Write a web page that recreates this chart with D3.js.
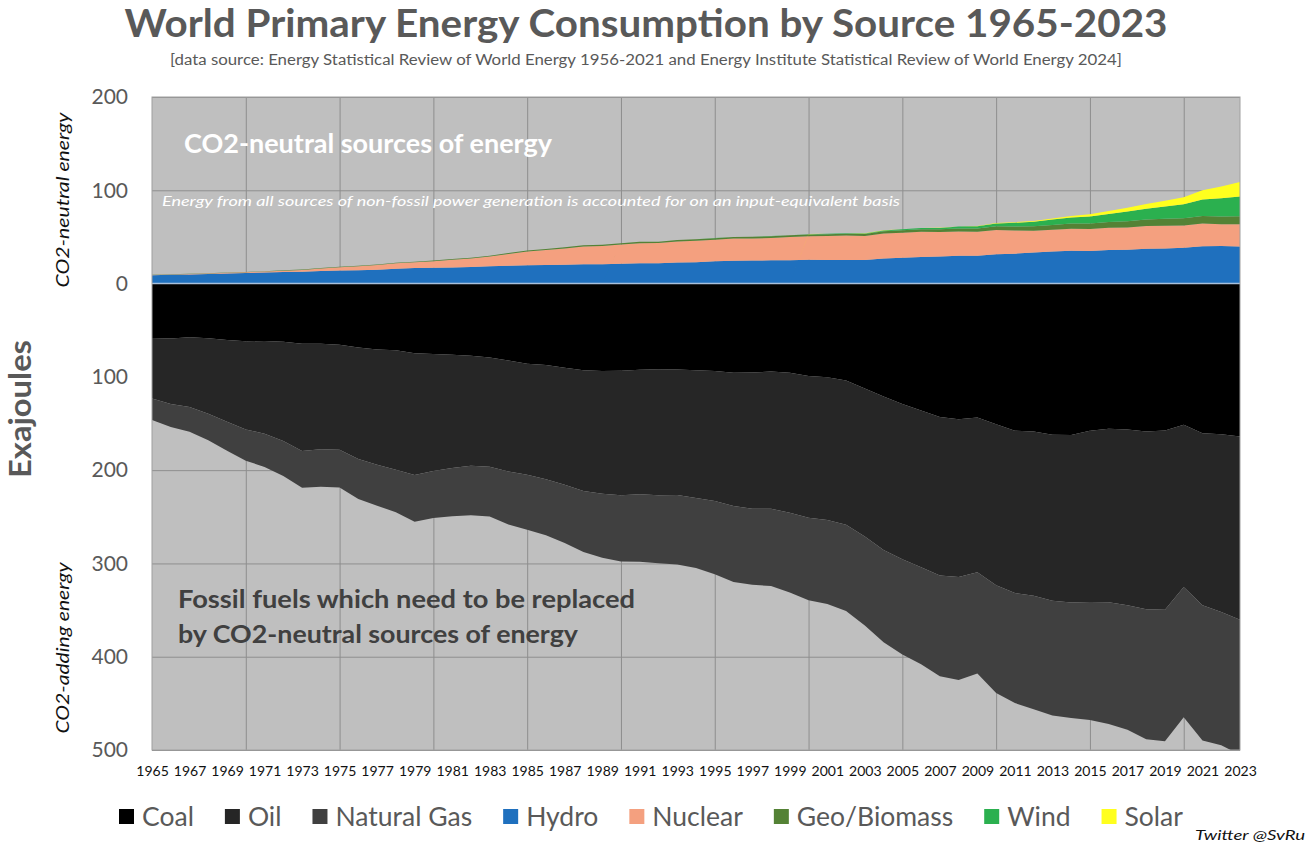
<!DOCTYPE html>
<html>
<head>
<meta charset="utf-8">
<script src="https://cdn.jsdelivr.net/npm/d3@7"></script>
<style>
  body { margin: 0; background: #fff; }
  svg { display: block; font-family: Lato, "Open Sans", sans-serif; }
</style>
</head>
<body>
<svg id="chart" width="1313" height="849"></svg>
<script>
// values in exajoules
var years = [1965,1966,1967,1968,1969,1970,1971,1972,1973,1974,1975,1976,1977,1978,1979,
             1980,1981,1982,1983,1984,1985,1986,1987,1988,1989,1990,1991,1992,1993,1994,
             1995,1996,1997,1998,1999,2000,2001,2002,2003,2004,2005,2006,2007,2008,2009,
             2010,2011,2012,2013,2014,2015,2016,2017,2018,2019,2020,2021,2022,2023];

var coal = [58.3,59.0,57.6,58.5,60.6,61.8,61.6,62.3,64.4,64.6,65.6,68.5,70.6,71.6,74.7,
            75.4,76.3,77.3,79.3,82.4,86.0,87.3,90.2,92.8,93.8,93.5,92.3,91.9,92.2,92.8,
            93.6,95.5,95.4,94.3,95.7,99.0,100.5,104.0,112.5,121.0,129.0,136.0,143.0,145.5,143.5,
            150.8,157.7,158.7,162.0,162.3,157.8,155.6,156.4,158.6,157.6,151.4,160.4,161.5,164.0];

var oil = [65.0,70.0,74.8,81.0,87.5,94.5,99.5,106.5,115.0,113.0,112.5,119.5,123.5,128.0,130.5,
           125.5,121.5,118.0,117.0,119.0,119.0,122.5,125.5,129.5,131.5,133.5,133.5,135.0,134.5,137.0,
           139.5,143.0,146.0,147.0,150.0,152.0,153.0,154.5,158.5,164.5,166.5,168.0,170.0,169.0,166.0,
           172.5,174.0,176.0,178.0,179.5,183.5,186.0,188.5,190.5,192.0,174.0,184.5,190.5,196.5];

var gas = [23.0,24.7,26.5,28.5,31.2,33.5,35.5,37.5,39.5,40.3,40.5,42.8,44.0,45.5,50.0,
           50.5,51.5,53.0,53.5,57.0,59.0,60.0,62.5,65.5,68.5,71.0,72.5,73.0,74.5,75.0,
           78.5,81.5,81.5,83.0,85.5,88.5,90.0,92.5,95.5,99.0,102.0,104.0,108.0,110.5,108.5,
           115.5,118.0,121.5,123.0,124.0,126.5,130.5,133.5,139.5,141.0,139.5,145.0,143.0,144.5];

var hydro = [9.0,9.5,9.8,10.3,10.9,11.4,11.8,12.3,12.6,13.6,14.0,14.3,14.7,15.8,16.6,
             17.0,17.3,17.8,18.6,19.2,19.6,19.9,20.2,20.8,20.7,21.3,21.8,21.7,22.7,22.9,
             24.0,24.4,24.7,24.9,25.0,25.5,25.2,25.4,25.4,26.9,27.7,28.6,28.9,29.9,29.9,
             31.5,32.1,33.4,34.3,35.1,34.9,36.0,36.3,37.3,37.5,38.5,40.0,40.3,39.7];

var nuclear = [0.2,0.3,0.4,0.5,0.6,0.8,1.1,1.5,2.0,2.6,3.6,4.2,5.2,6.0,6.3,
               7.0,8.3,9.0,10.4,12.5,14.8,16.0,17.5,19.0,19.5,20.5,21.5,21.7,22.4,22.9,
               23.0,23.8,23.6,24.0,24.8,25.2,25.8,26.0,25.5,26.9,26.8,27.0,26.3,26.0,25.6,
               26.0,24.8,23.2,23.3,23.6,23.6,23.8,23.9,24.3,24.6,23.8,24.5,23.4,24.0];

var geoBiomass = [0.2,0.2,0.2,0.3,0.3,0.3,0.3,0.4,0.4,0.4,0.4,0.5,0.5,0.5,0.6,
                  0.6,0.7,0.8,0.9,1.0,1.1,1.1,1.2,1.2,1.4,1.4,1.5,1.5,1.6,1.6,
                  1.7,1.7,1.8,1.9,1.9,2.0,2.0,2.1,2.3,2.4,2.6,2.7,2.9,3.2,3.5,
                  3.9,4.3,4.8,5.2,5.6,6.0,6.3,6.7,7.0,7.4,7.7,8.0,8.3,8.6];

var wind = [0,0,0,0,0,0,0,0,0,0,0,0,0,0,0,
            0,0,0,0,0,0,0,0,0,0,0.03,0.04,0.04,0.05,0.06,
            0.08,0.1,0.11,0.15,0.2,0.3,0.36,0.5,0.6,0.8,1.0,1.2,1.6,2.0,2.5,
            3.1,4.0,4.8,5.8,6.4,7.5,8.6,10.3,11.5,13.0,15.0,17.6,19.5,21.0];

var solar = [0,0,0,0,0,0,0,0,0,0,0,0,0,0,0,
             0,0,0,0,0,0,0,0,0,0,0,0,0,0,0,
             0,0,0,0,0,0.01,0.02,0.02,0.03,0.03,0.04,0.05,0.07,0.11,0.19,
             0.3,0.6,0.9,1.2,1.7,2.3,3.0,4.0,5.2,6.3,7.6,10.0,12.5,15.5];

var seriesNames = ['Coal','Oil','Natural Gas','Hydro','Nuclear','Geo/Biomass','Wind','Solar'];
var yTicks = [200,100,0,-100,-200,-300,-400,-500];
var gridYears = [1970,1975,1980,1985,1990,1995,2000,2005,2010,2015,2020];

var colors = ['#000000','#262626','#404040','#1f70be','#f4a07f','#548235','#2bb04f','#ffff1e'];

(function(){
    // fossil fuels are drawn below zero
    var rows = years.map(function(yr, i){
        return {
            year: yr,
            'Coal': -coal[i], 'Oil': -oil[i], 'Natural Gas': -gas[i],
            'Hydro': hydro[i], 'Nuclear': nuclear[i], 'Geo/Biomass': geoBiomass[i],
            'Wind': wind[i], 'Solar': solar[i]
        };
    });

    var stacked = d3.stack().keys(seriesNames).offset(d3.stackOffsetDiverging)(rows);

    var svg = d3.select('#chart');
    var pl = 152, pr = 1240, pt = 97, pb = 750;

    var x = d3.scaleLinear().domain([1965, 2023]).range([pl, pr]);
    var y = d3.scaleLinear().domain([-500, 200]).range([pb, pt]);

    svg.append('defs').append('clipPath').attr('id', 'plot-clip')
        .append('rect').attr('x', pl).attr('y', pt)
        .attr('width', pr - pl).attr('height', pb - pt);

    svg.append('rect')
        .attr('x', pl).attr('y', pt)
        .attr('width', pr - pl).attr('height', pb - pt)
        .attr('fill', '#bfbfbf');

    // gridlines
    svg.append('g').attr('class', 'grid-y')
        .attr('transform', 'translate(' + pl + ',0)')
        .call(d3.axisLeft(y).tickValues(yTicks).tickSize(-(pr - pl)).tickFormat(''));
    svg.append('g').attr('class', 'grid-x')
        .attr('transform', 'translate(0,' + pb + ')')
        .call(d3.axisBottom(x).tickValues(gridYears).tickSize(-(pb - pt)).tickFormat(''));
    svg.selectAll('.grid-y .domain, .grid-x .domain').remove();
    svg.selectAll('.grid-y line, .grid-x line').attr('stroke', '#8e8e8e').attr('stroke-width', 1);

    var area = d3.area()
        .x(function(d){ return x(d.data.year); })
        .y0(function(d){ return y(d[0]); })
        .y1(function(d){ return y(d[1]); });

    svg.append('g').attr('clip-path', 'url(#plot-clip)')
        .selectAll('path')
        .data(stacked)
        .enter()
        .append('path')
            .attr('d', area)
            .attr('fill', function(d, i){ return colors[i]; });

    // zero line
    svg.append('line')
        .attr('x1', pl).attr('x2', pr)
        .attr('y1', y(0)).attr('y2', y(0))
        .attr('stroke', '#a8c0dc').attr('stroke-width', 1.5);

    svg.append('rect')
        .attr('x', pl).attr('y', pt)
        .attr('width', pr - pl).attr('height', pb - pt)
        .attr('fill', 'none').attr('stroke', '#a0a0a0').attr('stroke-width', 1);

    // axes labels
    var ya = svg.append('g')
        .attr('transform', 'translate(' + pl + ',0)')
        .call(d3.axisLeft(y).tickValues(yTicks).tickSize(0).tickPadding(24)
            .tickFormat(function(d){ return Math.abs(d); }));
    ya.select('.domain').remove();
    ya.selectAll('text').attr('fill', '#595959').attr('font-size', 21)
        .attr('font-family', 'Lato, sans-serif');

    var xa = svg.append('g')
        .attr('transform', 'translate(0,' + pb + ')')
        .call(d3.axisBottom(x).tickValues(years.filter(function(d){ return d % 2 === 1; }))
            .tickSize(0).tickPadding(16).tickFormat(d3.format('d')));
    xa.select('.domain').remove();
    xa.selectAll('text').attr('fill', '#111').attr('font-size', 14)
        .attr('font-family', 'Lato, sans-serif');

    // texts
    function label(txt, px, py, opts){
        var t = svg.append('text').attr('x', px).attr('y', py).text(txt)
            .attr('font-size', opts.size)
            .attr('fill', opts.fill || '#595959')
            .attr('font-weight', opts.weight || 'normal')
            .attr('font-style', opts.style || 'normal')
            .attr('text-anchor', opts.anchor || 'start');
        if (opts.len) t.attr('textLength', opts.len).attr('lengthAdjust', 'spacingAndGlyphs');
        if (opts.rotate) t.attr('transform', 'rotate(-90,' + px + ',' + py + ')');
        return t;
    }

    label('World Primary Energy Consumption by Source 1965-2023', 646, 37,
        {size: 39, weight: 'bold', anchor: 'middle', len: 1043});
    label('[data source: Energy Statistical Review of World Energy 1956-2021 and Energy Institute Statistical Review of World Energy 2024]',
        646, 65, {size: 15.5, anchor: 'middle', len: 952});

    label('CO2-neutral sources of energy', 184, 153,
        {size: 26, weight: 'bold', fill: '#ffffff', len: 368});
    label('Energy from all sources of non-fossil power generation is accounted for on an input-equivalent basis',
        162, 206, {size: 14, style: 'italic', fill: '#ffffff', len: 738});
    label('Fossil fuels which need to be replaced', 178, 608,
        {size: 25.5, weight: 'bold', fill: '#404040', len: 457});
    label('by CO2-neutral sources of energy', 178, 643,
        {size: 25.5, weight: 'bold', fill: '#404040', len: 400});

    label('Exajoules', 31, 409, {size: 30, weight: 'bold', anchor: 'middle', rotate: true, len: 138});
    label('CO2-neutral energy', 69, 200, {size: 17, style: 'italic', fill: '#111', anchor: 'middle', rotate: true, len: 175});
    label('CO2-adding energy', 69, 648, {size: 17, style: 'italic', fill: '#111', anchor: 'middle', rotate: true, len: 171});

    // legend
    var legend = svg.append('g').attr('class', 'legend');
    var lx = 119;
    seriesNames.forEach(function(name, i){
        var g = legend.append('g').attr('transform', 'translate(' + lx + ',0)');
        g.append('rect').attr('x', 0).attr('y', 809).attr('width', 15).attr('height', 15)
            .attr('fill', colors[i]);
        var t = g.append('text').attr('x', 23).attr('y', 826).text(name)
            .attr('font-size', 26.5).attr('fill', '#595959');
        lx += 23 + t.node().getComputedTextLength() + 31;
    });

    label('Twitter @SvRu', 1305, 840, {size: 14, style: 'italic', fill: '#111', anchor: 'end', len: 110});
})();
</script>
</body>
</html>
